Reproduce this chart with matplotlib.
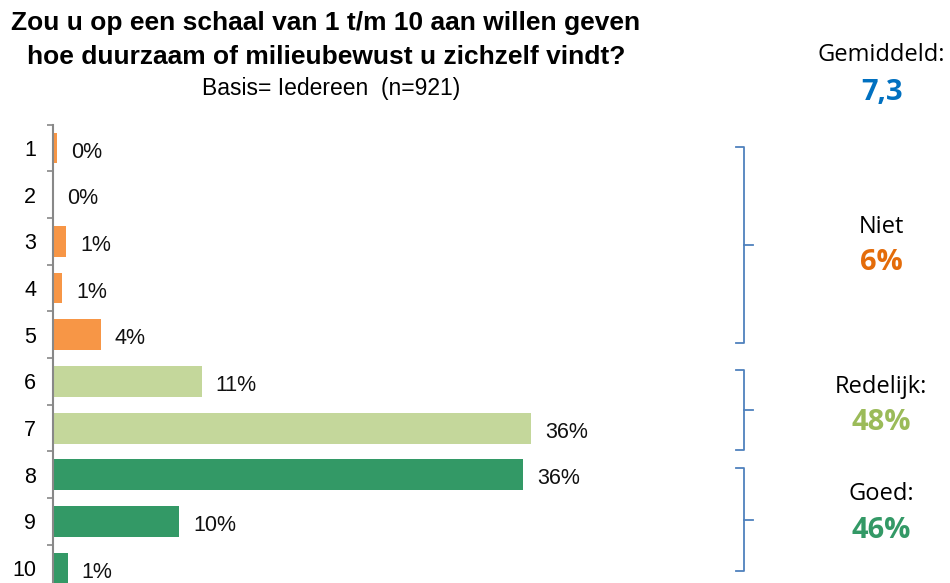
import matplotlib
matplotlib.use("Agg")
import matplotlib.pyplot as plt
from matplotlib.lines import Line2D

# Data
categories = ["1", "2", "3", "4", "5", "6", "7", "8", "9", "10"]
values = [0.3, 0.0, 1.0, 0.7, 3.6, 11.2, 36.0, 35.4, 9.5, 1.1]
labels = ["0%", "0%", "1%", "1%", "4%", "11%", "36%", "36%", "10%", "1%"]
groups = ["niet"] * 5 + ["redelijk"] * 2 + ["goed"] * 3

group_names = ["Niet", "Redelijk:", "Goed:"]
group_values = ["6%", "48%", "46%"]
mean_label = "Gemiddeld:"
mean_value = "7,3"

bar_colors = {"niet": "#F79646", "redelijk": "#C4D79B", "goed": "#339966"}
text_colors = ["#E46C0A", "#9BBB59", "#339966"]

plt.rcParams["font.family"] = ["Liberation Sans", "DejaVu Sans"]

fig = plt.figure(figsize=(9.5, 5.83), dpi=100)
W, H = 950, 583

# axes placed in pixel terms: spine at x=53, rows 1..10 centred at y=148..568
ax = fig.add_axes([53 / W, 1 - 591.5 / H, 531 / W, (591.5 - 124.7) / H])

ypos = list(range(1, len(categories) + 1))
ax.barh(ypos, values, height=0.66, color=[bar_colors[g] for g in groups])
ax.set_ylim(10.5, 0.5)
ax.set_xlim(0, 40)

for y, v, lab in zip(ypos, values, labels):
    ax.annotate(lab, (v, y), xytext=(10, -3), textcoords="offset points",
                ha="left", va="center", fontsize=15.5, color="#111111")

ax.set_yticks(ypos)
ax.set_yticklabels(categories, fontsize=15.5)
ax.set_yticks([y + 0.5 for y in range(0, 11)], minor=True)
ax.tick_params(axis="y", which="major", length=0, pad=12)
ax.tick_params(axis="y", which="minor", length=4, width=1.2, color="#888888")
ax.set_xticks([])
for s in ["top", "right", "bottom"]:
    ax.spines[s].set_visible(False)
ax.spines["left"].set_color("#888888")
ax.spines["left"].set_linewidth(1.5)

# title block
fig.text(326 / W, 1 - 23 / H, "Zou u op een schaal van 1 t/m 10 aan willen geven",
         ha="center", va="center", fontsize=19, fontweight="bold")
fig.text(326 / W, 1 - 57 / H, "hoe duurzaam of milieubewust u zichzelf vindt?",
         ha="center", va="center", fontsize=19, fontweight="bold")
fig.text(331 / W, 1 - 88 / H, "Basis= Iedereen  (n=921)",
         ha="center", va="center", fontsize=16.5)

# right-hand summary
side_font = ["Open Sans", "DejaVu Sans"]
fig.text(881 / W, 1 - 55 / H, mean_label, ha="center", va="center",
         fontsize=17, family=side_font)
fig.text(882 / W, 1 - 92 / H, mean_value, ha="center", va="center",
         fontsize=21, fontweight="bold", color="#0070C0", family=side_font)

name_y = [227, 387, 494]
for name, val, col, yy in zip(group_names, group_values, text_colors, name_y):
    fig.text(881 / W, 1 - yy / H, name, ha="center", va="center",
             fontsize=17, family=side_font)
    fig.text(881 / W, 1 - (yy + 36) / H, val, ha="center", va="center",
             fontsize=21, fontweight="bold", color=col, family=side_font)

# brackets (top, bottom in pixels)
brackets = [(147, 343), (370, 450), (468, 571)]
for top, bot in brackets:
    mid = (top + bot) / 2
    xs = [736, 744, 744, 736]
    ys = [top, top, bot, bot]
    fig.add_artist(Line2D([x / W for x in xs], [1 - y / H for y in ys],
                          color="#4F81BD", lw=1.3))
    fig.add_artist(Line2D([744 / W, 753 / W], [1 - mid / H, 1 - mid / H],
                          color="#4F81BD", lw=1.3))

fig.savefig("out.png", dpi=100)
